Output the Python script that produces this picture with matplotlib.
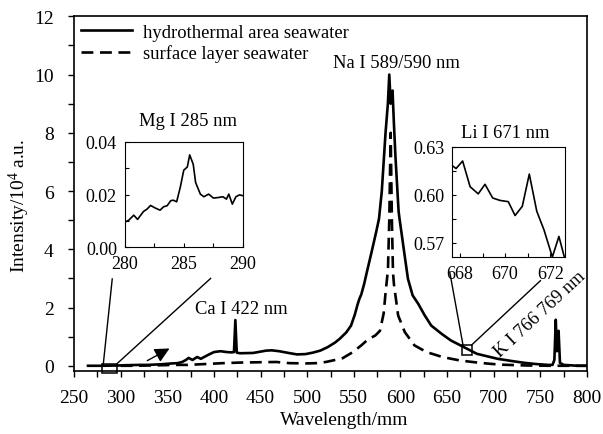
import matplotlib
matplotlib.use("Agg")
import matplotlib.pyplot as plt
from matplotlib.patches import Rectangle
from matplotlib.ticker import MultipleLocator

plt.rcParams['font.family'] = ['Liberation Serif', 'DejaVu Serif']
plt.rcParams['mathtext.fontset'] = 'custom'
plt.rcParams['mathtext.rm'] = 'Liberation Serif'
plt.rcParams['mathtext.it'] = 'Liberation Serif:italic'

# ---- data ----
solid_wl = [265, 280, 298, 307, 320, 329, 343, 355, 361, 366, 370, 373, 377, 382, 386, 393,
            400, 407, 414, 419, 421.5, 423, 424.5, 428, 442, 456, 462, 470, 480, 489, 498,
            506, 514, 522, 530, 535, 542, 547, 551, 554, 556, 558, 561, 564, 569, 574, 577,
            580, 584, 586.5, 588, 589.5, 591.5, 593, 594.6, 598, 599, 604, 608, 613, 619, 626,
            633, 644, 654, 668, 682, 704, 720, 733, 745, 758, 763, 765, 766.5, 767.7, 769.5,
            771, 775, 790, 800]
solid_val = [0.0, 0.0, 0.01, 0.02, 0.03, 0.03, 0.05, 0.08, 0.09, 0.13, 0.20, 0.27, 0.20, 0.30, 0.24, 0.36,
             0.47, 0.50, 0.47, 0.46, 0.47, 1.57, 0.45, 0.43, 0.44, 0.52, 0.53, 0.50, 0.44, 0.39, 0.40,
             0.45, 0.52, 0.64, 0.80, 0.93, 1.15, 1.38, 1.75, 2.10, 2.30, 2.45, 2.80, 3.22, 3.90, 4.60, 5.05,
             6.00, 8.00, 9.00, 10.0, 9.00, 9.45, 8.30, 7.20, 5.30, 5.05, 3.90, 2.99, 2.42, 2.13, 1.73,
             1.38, 1.10, 0.87, 0.64, 0.41, 0.24, 0.16, 0.10, 0.06, 0.03, 0.03, 0.20, 1.58, 0.50, 1.20,
             0.10, 0.03, 0.0, 0.0]

dash_wl = [300, 317, 330, 345, 360, 372, 391, 410, 428, 447, 467, 481, 499, 510, 520, 530, 538,
           549, 558, 565, 573, 578, 582, 584, 586.6, 588, 589.5, 590.8, 592, 593, 597.5, 604.6,
           615, 628, 645, 664, 685, 706, 735, 760, 800]
dash_val = [0.0, 0.0, 0.01, 0.02, 0.03, 0.03, 0.06, 0.09, 0.11, 0.12, 0.13, 0.09, 0.08, 0.09, 0.13, 0.20, 0.26,
            0.47, 0.70, 0.90, 1.04, 1.20, 1.80, 2.50, 3.30, 5.00, 8.00, 5.00, 3.20, 2.80, 1.73, 1.16,
            0.70, 0.47, 0.30, 0.18, 0.10, 0.04, 0.01, 0.0, 0.0]

mg_wl = [280.0, 280.36, 280.78, 281.1, 281.6, 281.9, 282.2, 282.6, 283.0, 283.3, 283.6, 283.9,
         284.1, 284.4, 284.7, 285.0, 285.3, 285.5, 285.8, 286.0, 286.4, 286.7, 287.1, 287.5,
         287.9, 288.3, 288.6, 288.8, 289.1, 289.4, 289.7, 290.0]
mg_val = [0.0095, 0.0103, 0.0122, 0.0106, 0.0136, 0.0145, 0.0159, 0.0149, 0.0141, 0.0154, 0.0158, 0.0177,
          0.0179, 0.0173, 0.0227, 0.0293, 0.0305, 0.0351, 0.0315, 0.0246, 0.0202, 0.0192, 0.0202, 0.0187,
          0.0189, 0.0192, 0.0183, 0.0202, 0.0164, 0.0192, 0.0199, 0.0196]

li_wl = [667.64, 667.83, 668.12, 668.45, 668.81, 669.11, 669.45, 669.77, 670.14, 670.44, 670.76,
         671.07, 671.40, 671.72, 672.09, 672.38, 672.62]
li_val = [0.6185, 0.6165, 0.6212, 0.6051, 0.6006, 0.6066, 0.5980, 0.5965, 0.5957, 0.5870, 0.5928,
          0.6130, 0.5897, 0.5780, 0.5610, 0.5739, 0.5610]

main_xticks = [250, 300, 350, 400, 450, 500, 550, 600, 650, 700, 750, 800]
main_yticks = [0, 2, 4, 6, 8, 10, 12]

# ---- figure ----
W, H = 603, 435
fig = plt.figure(figsize=(6.03, 4.35), dpi=100)
ax = fig.add_axes([0.1227, 0.1448, 0.8508, 0.8154])

ax.plot(solid_wl, solid_val, color='black', lw=1.9, label='hydrothermal area seawater')
ax.plot(dash_wl, dash_val, color='black', lw=1.9, linestyle=(0, (4.5, 2.5)),
        label='surface layer seawater')

ax.set_xlim(250, 800)
ax.set_ylim(-0.18, 12)
ax.set_xticks(main_xticks)
ax.set_yticks(main_yticks)
ax.xaxis.set_minor_locator(MultipleLocator(25))
ax.yaxis.set_minor_locator(MultipleLocator(1))
ax.tick_params(which='both', direction='out', length=4, width=1, labelsize=14, top=False, right=False)
ax.tick_params(axis='y', which='both', pad=10.5)
ax.tick_params(axis='x', which='both', pad=9)
for s in ax.spines.values():
    s.set_linewidth(1.2)
ax.set_xlabel('Wavelength/mm', fontsize=14)
ax.set_ylabel('Intensity/10$^4$ a.u.', fontsize=14)
ax.xaxis.set_label_coords(0.526, -0.113)
ax.yaxis.set_label_coords(-0.082, 0.4676)

leg = ax.legend(loc='upper left', frameon=False, fontsize=13.4, handlelength=2.7,
                borderaxespad=0.1, borderpad=0.3, labelspacing=0.2, handletextpad=0.6)

# annotations
ax.text(595.5, 10.43, 'Na I 589/590 nm', fontsize=13.4, ha='center', va='center')
ax.text(429, 1.98, 'Ca I 422 nm', fontsize=13.4, ha='center', va='center')
ax.text(749, 1.80, 'K I 766 769 nm', fontsize=13.4, ha='center', va='center', rotation=43)
fig.text(188 / W, 1 - 121 / H, 'Mg I 285 nm', fontsize=13.4, ha='center', va='center')
fig.text(505 / W, 1 - 134 / H, 'Li I 671 nm', fontsize=13.4, ha='center', va='center')

# zoom boxes
ax.add_patch(Rectangle((280, -0.25), 16.5, 0.32, fill=False, lw=1.1, ec='black', clip_on=False))
ax.add_patch(Rectangle((666, 0.37), 11, 0.35, fill=False, lw=1.1, ec='black', clip_on=False))
ax.plot([291.0, 281.4], [2.98, 0.05], color='black', lw=1.0, clip_on=False)
ax.plot([396.5, 296.4], [3.0, 0.08], color='black', lw=1.0, clip_on=False)
ax.plot([652.9, 667.1], [3.21, 0.70], color='black', lw=1.0, clip_on=False)
ax.plot([750.0, 676.5], [2.92, 0.72], color='black', lw=1.0, clip_on=False)

# arrow
ax.annotate('', xy=(355, 0.64), xytext=(326, 0.13),
            arrowprops=dict(arrowstyle='-|>', color='black', lw=1.0, mutation_scale=22))

# Mg inset
ax1 = fig.add_axes([0.2065, 0.4292, 0.1965, 0.2421])
ax1.plot(mg_wl, mg_val, color='black', lw=1.2)
ax1.set_xlim(280, 290)
ax1.set_ylim(0, 0.04)
ax1.set_xticks([280, 285, 290])
ax1.set_yticks([0.00, 0.02, 0.04])
ax1.set_yticklabels(['0.00', '0.02', '0.04'])
ax1.xaxis.set_minor_locator(MultipleLocator(2.5))
ax1.yaxis.set_minor_locator(MultipleLocator(0.01))
ax1.tick_params(which='both', direction='in', length=3, width=0.8, labelsize=13, pad=5.5)

# Li inset
ax2 = fig.add_axes([0.7496, 0.4069, 0.1874, 0.2529])
ax2.plot(li_wl, li_val, color='black', lw=1.2)
ax2.set_xlim(667.65, 672.65)
ax2.set_ylim(0.561, 0.630)
ax2.set_xticks([668, 670, 672])
ax2.set_yticks([0.57, 0.60, 0.63])
ax2.set_yticklabels(['0.57', '0.60', '0.63'])
ax2.xaxis.set_minor_locator(MultipleLocator(1))
ax2.yaxis.set_minor_locator(MultipleLocator(0.015))
ax2.tick_params(which='both', direction='in', length=3, width=0.8, labelsize=13, pad=5.5)

fig.savefig('out.png', dpi=100)
